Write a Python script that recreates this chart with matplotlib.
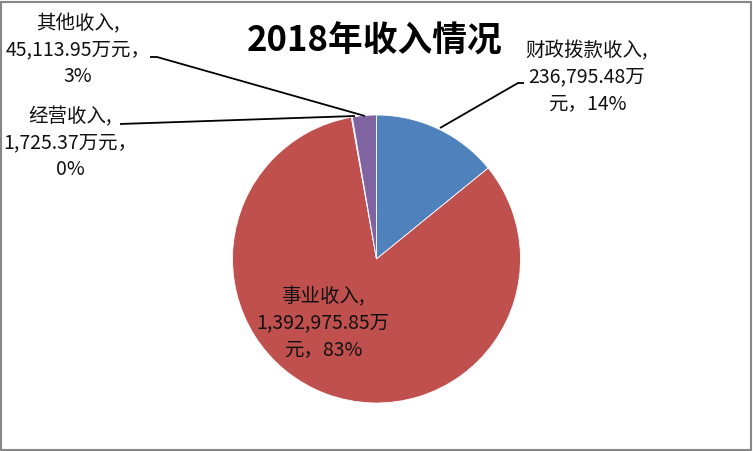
import matplotlib
matplotlib.use("Agg")
import matplotlib.pyplot as plt
from matplotlib.patches import Rectangle

plt.rcParams["font.family"] = ["Noto Sans CJK SC", "DejaVu Sans"]

# data
NAMES = ["财政拨款收入", "事业收入", "经营收入", "其他收入"]
VALUES = [236795.48, 1392975.85, 1725.37, 45113.95]
COLORS = ["#4F81BD", "#C0504D", "#9BBB59", "#8064A2"]
TITLE = "2018年收入情况"

W, H = 753, 451
# layout in pixel coords (y measured from top)
CENTER = (376.5, 259)
RADIUS = 144
LABEL_POS = [(587, 77), (323, 323), (70, 143), (78, 50)]
# where the value wraps onto the next line
WRAP_AFTER_WAN = [True, True, False, False]
LEADERS = {
    0: [(440, 128), (518, 83), (524, 83)],
    2: [(120, 124), (355, 116)],
    3: [(150, 57), (157, 57), (365, 116)],
}


def py(y):
    return H - y


fig = plt.figure(figsize=(W / 100, H / 100), dpi=100)
ax = fig.add_axes([0, 0, 1, 1])

ax.pie(VALUES, colors=COLORS, startangle=90, counterclock=False,
       center=(CENTER[0], py(CENTER[1])), radius=RADIUS,
       wedgeprops=dict(edgecolor="white", linewidth=0.6))
ax.set_xlim(0, W)
ax.set_ylim(0, H)
ax.set_aspect("equal")
ax.axis("off")

total = sum(VALUES)
for i, (name, v) in enumerate(zip(NAMES, VALUES)):
    pct = v / total * 100
    if WRAP_AFTER_WAN[i]:
        txt = f"{name},\n{v:,.2f}万\n元，{pct:.0f}%"
    else:
        txt = f"{name},\n{v:,.2f}万元，\n{pct:.0f}%"
    x, y = LABEL_POS[i]
    ax.text(x, py(y), txt, ha="center", va="center", fontsize=14,
            linespacing=1.35, color="#111111", fontweight="light")

for i, pts in LEADERS.items():
    ax.plot([p[0] for p in pts], [py(p[1]) for p in pts], color="black", lw=1.3,
            solid_capstyle="butt")

ax.text(375, py(41), TITLE, ha="center", va="center", fontsize=25,
        fontweight="bold", color="black")

fig.patches.append(Rectangle((1, 1), W - 3, H - 3, transform=None, fill=False,
                             edgecolor="#868686", linewidth=1.5))

fig.savefig("out.png", dpi=100)
